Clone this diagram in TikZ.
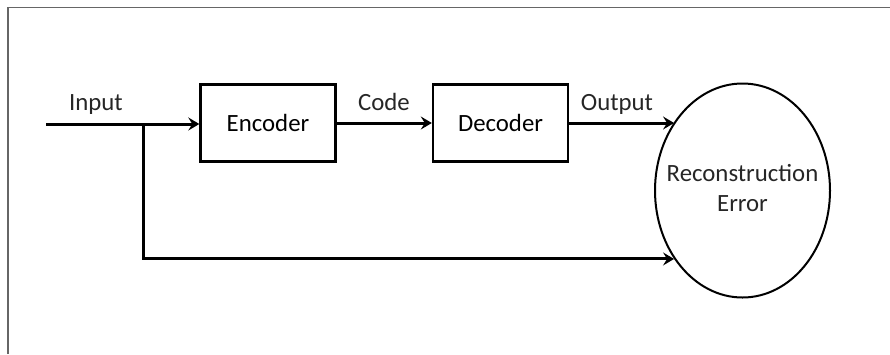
\documentclass[tikz,border=0pt]{standalone}
\usepackage{fontspec}
\setmainfont{Carlito}
\usetikzlibrary{arrows.meta,shapes.geometric}

\tikzset{
  block/.style={draw, line width=2.4pt, minimum width=135pt, minimum height=77pt, inner sep=0pt},
  errshape/.style={draw, ellipse, line width=2pt, minimum width=175pt, minimum height=214pt, inner sep=0pt},
  flow/.style={line width=3pt, -{Stealth[length=11pt,width=13pt,inset=4pt]}},
  caption/.style={inner sep=0pt, text=black!85},
  frame/.style={draw=black!60, line width=1.8pt}
}

\begin{document}
\begin{tikzpicture}[x=1pt,y=-1pt,font=\fontsize{24.8}{30}\selectfont]
  \useasboundingbox (0,0) rectangle (890,354);
  % outer frame: top and left edges only
  \draw[frame] (8,354) -- (8,7.5) -- (890,7.5);

  % blocks
  \node[block] (enc) at (268,123) {Encoder};
  \node[block] (dec) at (500.5,123) {Decoder};
  \node[errshape] (err) at (742.5,190.5) {};
  \node[caption, align=center] (errtext) at (742.5,188) {Reconstruction\\Error};

  % input line and its branch
  \coordinate (in) at (46,124);
  \coordinate (split) at (143,124);
  \draw[flow] (in) -- (enc.west |- in);
  \draw[flow] (split) |- (err.225);

  % forward path
  \draw[flow] (enc.east) -- (dec.west);
  \draw[flow] (dec.east) -- (dec.east -| err.135);

  % connector labels
  \node[caption, anchor=base] (lin) at (96,110) {Input};
  \node[caption, anchor=base] (lcode) at (384,110) {Code};
  \node[caption, anchor=base] (lout) at (617,110) {Output};
\end{tikzpicture}
\end{document}
